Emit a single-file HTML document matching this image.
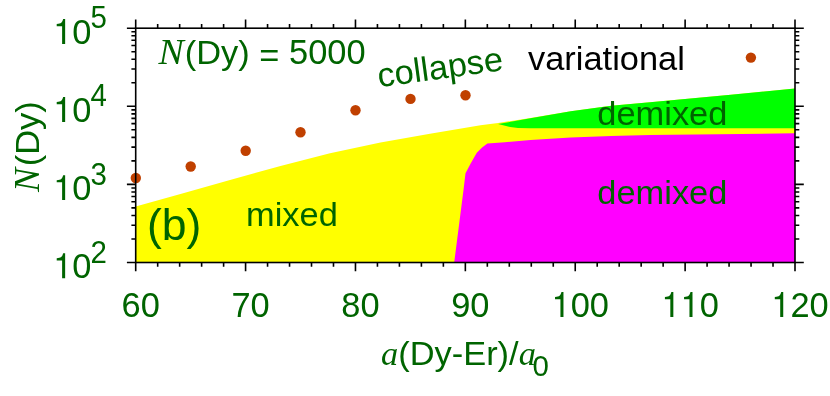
<!DOCTYPE html><html><head><meta charset="utf-8"><title>chart</title><style>html,body{margin:0;padding:0;background:#fff}svg{display:block}text{font-family:"Liberation Sans",sans-serif}.s{font-family:"Liberation Serif",serif;font-style:italic}</style></head><body>
<svg style="will-change:transform" width="830" height="396" viewBox="0 0 830 396">
<rect width="830" height="396" fill="#fff"/>
<polygon fill="#ffff00" points="135.7,206.5 180.5,194.1 230.0,180.0 280.5,166.0 330.0,153.2 380.5,142.6 430.0,133.7 480.5,125.3 498.1,123.0 530.4,117.9 570.8,111.3 611.2,105.8 650.0,102.3 730.8,94.8 795.0,88.5 795.0,262.5 135.7,262.5"/>
<polygon fill="#00ff00" points="498.1,124.0 530.4,118.3 570.8,111.3 611.2,105.8 650.0,102.3 730.8,94.8 795.0,88.5 795.0,128.3 570.8,128.3 530.4,128.3 518.0,128.0 510.2,127.0"/>
<polygon fill="#ff00ff" points="454.2,262.5 463.5,190.0 465.5,173.2 470.8,163.3 476.8,152.7 482.1,147.4 487.4,143.6 505.0,142.2 530.4,140.0 570.8,137.6 611.2,136.1 650.0,135.0 795.0,133.3 795.0,262.5"/>
<circle cx="135.8" cy="178.0" r="5.2" fill="#c04000"/>
<circle cx="190.7" cy="166.5" r="5.2" fill="#c04000"/>
<circle cx="245.7" cy="150.7" r="5.2" fill="#c04000"/>
<circle cx="300.5" cy="132.3" r="5.2" fill="#c04000"/>
<circle cx="355.5" cy="110.2" r="5.2" fill="#c04000"/>
<circle cx="410.5" cy="98.9" r="5.2" fill="#c04000"/>
<circle cx="465.5" cy="95.2" r="5.2" fill="#c04000"/>
<circle cx="750.9" cy="57.6" r="5.2" fill="#c04000"/>
<g stroke="#000" stroke-width="1.6" fill="none" stroke-linecap="butt">
<rect x="135.7" y="28.2" width="659.3" height="234.3"/>
<path d="M135.70 28.20V19.40M135.70 262.50V271.30"/>
<path d="M157.68 28.20V23.90M157.68 262.50V266.80"/>
<path d="M179.65 28.20V23.90M179.65 262.50V266.80"/>
<path d="M201.63 28.20V23.90M201.63 262.50V266.80"/>
<path d="M223.61 28.20V23.90M223.61 262.50V266.80"/>
<path d="M245.58 28.20V19.40M245.58 262.50V271.30"/>
<path d="M267.56 28.20V23.90M267.56 262.50V266.80"/>
<path d="M289.54 28.20V23.90M289.54 262.50V266.80"/>
<path d="M311.51 28.20V23.90M311.51 262.50V266.80"/>
<path d="M333.49 28.20V23.90M333.49 262.50V266.80"/>
<path d="M355.47 28.20V19.40M355.47 262.50V271.30"/>
<path d="M377.44 28.20V23.90M377.44 262.50V266.80"/>
<path d="M399.42 28.20V23.90M399.42 262.50V266.80"/>
<path d="M421.40 28.20V23.90M421.40 262.50V266.80"/>
<path d="M443.37 28.20V23.90M443.37 262.50V266.80"/>
<path d="M465.35 28.20V19.40M465.35 262.50V271.30"/>
<path d="M487.33 28.20V23.90M487.33 262.50V266.80"/>
<path d="M509.30 28.20V23.90M509.30 262.50V266.80"/>
<path d="M531.28 28.20V23.90M531.28 262.50V266.80"/>
<path d="M553.26 28.20V23.90M553.26 262.50V266.80"/>
<path d="M575.23 28.20V19.40M575.23 262.50V271.30"/>
<path d="M597.21 28.20V23.90M597.21 262.50V266.80"/>
<path d="M619.19 28.20V23.90M619.19 262.50V266.80"/>
<path d="M641.16 28.20V23.90M641.16 262.50V266.80"/>
<path d="M663.14 28.20V23.90M663.14 262.50V266.80"/>
<path d="M685.12 28.20V19.40M685.12 262.50V271.30"/>
<path d="M707.09 28.20V23.90M707.09 262.50V266.80"/>
<path d="M729.07 28.20V23.90M729.07 262.50V266.80"/>
<path d="M751.05 28.20V23.90M751.05 262.50V266.80"/>
<path d="M773.02 28.20V23.90M773.02 262.50V266.80"/>
<path d="M795.00 28.20V19.40M795.00 262.50V271.30"/>
<path d="M135.70 262.50H126.90M795.00 262.50H803.80"/>
<path d="M135.70 238.99H131.40M795.00 238.99H799.30"/>
<path d="M135.70 225.24H131.40M795.00 225.24H799.30"/>
<path d="M135.70 215.48H131.40M795.00 215.48H799.30"/>
<path d="M135.70 207.91H131.40M795.00 207.91H799.30"/>
<path d="M135.70 201.73H131.40M795.00 201.73H799.30"/>
<path d="M135.70 196.50H131.40M795.00 196.50H799.30"/>
<path d="M135.70 191.97H131.40M795.00 191.97H799.30"/>
<path d="M135.70 187.97H131.40M795.00 187.97H799.30"/>
<path d="M135.70 184.40H126.90M795.00 184.40H803.80"/>
<path d="M135.70 160.89H131.40M795.00 160.89H799.30"/>
<path d="M135.70 147.14H131.40M795.00 147.14H799.30"/>
<path d="M135.70 137.38H131.40M795.00 137.38H799.30"/>
<path d="M135.70 129.81H131.40M795.00 129.81H799.30"/>
<path d="M135.70 123.63H131.40M795.00 123.63H799.30"/>
<path d="M135.70 118.40H131.40M795.00 118.40H799.30"/>
<path d="M135.70 113.87H131.40M795.00 113.87H799.30"/>
<path d="M135.70 109.87H131.40M795.00 109.87H799.30"/>
<path d="M135.70 106.30H126.90M795.00 106.30H803.80"/>
<path d="M135.70 82.79H131.40M795.00 82.79H799.30"/>
<path d="M135.70 69.04H131.40M795.00 69.04H799.30"/>
<path d="M135.70 59.28H131.40M795.00 59.28H799.30"/>
<path d="M135.70 51.71H131.40M795.00 51.71H799.30"/>
<path d="M135.70 45.53H131.40M795.00 45.53H799.30"/>
<path d="M135.70 40.30H131.40M795.00 40.30H799.30"/>
<path d="M135.70 35.77H131.40M795.00 35.77H799.30"/>
<path d="M135.70 31.77H131.40M795.00 31.77H799.30"/>
<path d="M135.70 28.20H126.90M795.00 28.20H803.80"/>
</g>
<text transform="translate(121.56,316.90) scale(1.0126,1.0500)" font-size="34.00" fill="#006400">60</text>
<text transform="translate(231.44,316.90) scale(1.0126,1.0500)" font-size="34.00" fill="#006400">70</text>
<text transform="translate(341.32,316.90) scale(1.0126,1.0500)" font-size="34.00" fill="#006400">80</text>
<text transform="translate(451.21,316.90) scale(1.0126,1.0500)" font-size="34.00" fill="#006400">90</text>
<path transform="translate(551.52,316.90) scale(0.03443,-0.03516)" d="M259 0L347 0L347 709L289 709C258 600 238 585 102 568L102 505L259 505Z" fill="#006400"/><text transform="translate(570.66,316.90) scale(1.0126,1.0500)" font-size="34.00" fill="#006400">00</text>
<path transform="translate(661.40,316.90) scale(0.03443,-0.03516)" d="M259 0L347 0L347 709L289 709C258 600 238 585 102 568L102 505L259 505Z" fill="#006400"/><path transform="translate(680.55,316.90) scale(0.03443,-0.03516)" d="M259 0L347 0L347 709L289 709C258 600 238 585 102 568L102 505L259 505Z" fill="#006400"/><text transform="translate(699.69,316.90) scale(1.0126,1.0500)" font-size="34.00" fill="#006400">0</text>
<path transform="translate(771.29,316.90) scale(0.03443,-0.03516)" d="M259 0L347 0L347 709L289 709C258 600 238 585 102 568L102 505L259 505Z" fill="#006400"/><text transform="translate(790.43,316.90) scale(1.0126,1.0500)" font-size="34.00" fill="#006400">20</text>
<path transform="translate(53.20,278.20) scale(0.03443,-0.03516)" d="M259 0L347 0L347 709L289 709C258 600 238 585 102 568L102 505L259 505Z" fill="#006400"/><text transform="translate(72.34,278.20) scale(1.0126,1.0500)" font-size="34.00" fill="#006400">0</text>
<text transform="translate(90.58,262.60) scale(1.0126,1.0500)" font-size="29.10" fill="#006400">2</text>
<path transform="translate(53.20,200.10) scale(0.03443,-0.03516)" d="M259 0L347 0L347 709L289 709C258 600 238 585 102 568L102 505L259 505Z" fill="#006400"/><text transform="translate(72.34,200.10) scale(1.0126,1.0500)" font-size="34.00" fill="#006400">0</text>
<text transform="translate(90.58,184.50) scale(1.0126,1.0500)" font-size="29.10" fill="#006400">3</text>
<path transform="translate(53.20,122.00) scale(0.03443,-0.03516)" d="M259 0L347 0L347 709L289 709C258 600 238 585 102 568L102 505L259 505Z" fill="#006400"/><text transform="translate(72.34,122.00) scale(1.0126,1.0500)" font-size="34.00" fill="#006400">0</text>
<text transform="translate(90.58,106.40) scale(1.0126,1.0500)" font-size="29.10" fill="#006400">4</text>
<path transform="translate(53.20,43.90) scale(0.03443,-0.03516)" d="M259 0L347 0L347 709L289 709C258 600 238 585 102 568L102 505L259 505Z" fill="#006400"/><text transform="translate(72.34,43.90) scale(1.0126,1.0500)" font-size="34.00" fill="#006400">0</text>
<text transform="translate(90.58,28.30) scale(1.0126,1.0500)" font-size="29.10" fill="#006400">5</text>
<text transform="translate(158.50,63.50) scale(1.0760,1)" font-size="35.20" fill="#006400" text-anchor="start"><tspan class="s">N</tspan></text>
<text transform="translate(184.80,63.80) scale(1.0126,1)" font-size="34.00" fill="#006400" text-anchor="start">(Dy) <tspan dy="3.6">=</tspan></text>
<text transform="translate(289.05,64.00) scale(1.0126,1.0500)" font-size="34.00" fill="#006400">5000</text>
<text transform="translate(379.00,87.30) rotate(-7.80) scale(1.0126,1)" font-size="34.00" fill="#006400" text-anchor="start">collapse</text>
<text transform="translate(528.00,69.80) scale(1.0126,1)" font-size="34.00" fill="#000" text-anchor="start">variational</text>
<text transform="translate(597.30,125.00) scale(1.0126,1)" font-size="34.00" fill="#006400" text-anchor="start">demixed</text>
<text transform="translate(597.30,204.00) scale(1.0126,1)" font-size="34.00" fill="#006400" text-anchor="start">demixed</text>
<text transform="translate(246.00,226.30) scale(1.0126,1)" font-size="34.00" fill="#006400" text-anchor="start">mixed</text>
<text transform="translate(147.00,240.40) scale(0.9980,1)" font-size="44.60" fill="#006400" text-anchor="start">(b)</text>
<text transform="translate(38.70,192.00) rotate(-90.00) scale(1.0270,1)" font-size="35.20" fill="#006400" text-anchor="start"><tspan class="s">N</tspan></text>
<text transform="translate(38.70,166.20) rotate(-90.00) scale(1.0126,1)" font-size="34.00" fill="#006400" text-anchor="start">(Dy)</text>
<text transform="translate(381.00,364.50) scale(1.0126,1)" font-size="34.00" fill="#006400" text-anchor="start"><tspan class="s">a</tspan>(Dy-Er)/<tspan class="s">a</tspan><tspan font-size="29.1" dy="11.5" dx="-3.3">0</tspan></text>
</svg></body></html>
